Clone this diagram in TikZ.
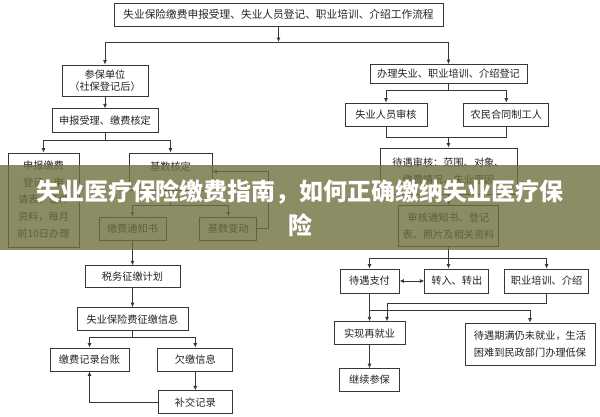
\documentclass[tikz,border=0pt]{standalone}
\usepackage{fontspec}
\newfontfamily\cjk{Noto Sans CJK SC}
\usetikzlibrary{arrows.meta,positioning}
\definecolor{linec}{RGB}{55,55,55}
\definecolor{textc}{RGB}{35,35,35}
\definecolor{bannerc}{RGB}{112,112,62}

\begin{document}
\begin{tikzpicture}[x=1pt,y=1pt,
  node distance=12pt and 30pt,
  box/.style={draw=linec,line width=0.8pt,fill=white,align=center,inner sep=2pt,text=textc,font=\cjk\fontsize{10.2}{17}\selectfont},
  wh/.style 2 args={minimum width=#1pt,minimum height=#2pt},
  ln/.style={draw=linec,line width=0.8pt},
  arr/.style={-{Latex[length=4.5pt,width=4pt]},draw=linec,line width=0.8pt},
  darr/.style={{Latex[length=4.5pt,width=4pt]}-{Latex[length=4.5pt,width=4pt]},draw=linec,line width=0.8pt},
  banner/.style={fill=bannerc,fill opacity=0.8,inner sep=0pt},
  title/.style={text=white,align=center,font=\cjk\bfseries\fontsize{24}{34}\selectfont}
]
\useasboundingbox (0,0) rectangle (600,-416);

% left column
\node[box,wh={329}{23},font=\cjk\fontsize{10.7}{14}\selectfont] (top) at (278.5,-14.5) {失业保险缴费申报受理、失业人员登记、职业培训、介绍工作流程};
\node[box,wh={86}{31}] (cbdw) at (105,-80.5) {参保单位\\[-5pt]（社保登记后）};
\node[box,wh={106}{24},below=12pt of cbdw] (sbsl) {申报受理、缴费核定};
\node[box,wh={71}{94}] (sbjf) at (43.5,-200) {申报缴费\\登记、申\\请表、证件\\资料，每月\\前10日办理};
\node[box,wh={83}{37},text height=14pt,text depth=17pt] (jshd) at (170.5,-171.5) {基数核定};
\node[box,wh={67}{23}] (jftz) at (132.5,-228.5) {缴费通知书};
\node[box,wh={57}{23},right=33pt of jftz] (jsbd) {基数变动};
\node[box,wh={95}{22},below=25pt of jftz] (swzj) {税务征缴计划};
\node[box,wh={111}{23},below=19pt of swzj] (zjxx) {失业保险费征缴信息};
\node[box,wh={79}{23}] (jfjl) at (89.5,-359.5) {缴费记录台账};
\node[box,wh={75}{23},right=28pt of jfjl] (qjxx) {欠缴信息};
\node[box,wh={74}{23},below=19pt of qjxx] (bjjl) {补交记录};

% right column
\node[box,wh={157}{19}] (bldj) at (448.5,-74) {办理失业、职业培训、介绍登记};
\node[box,wh={82}{23}] (syry) at (386,-114.5) {失业人员审核};
\node[box,wh={85}{23},right=36pt of syry] (nmht) {农民合同制工人};
\node[box,wh={137}{46}] (dysh) at (448.5,-171) {待遇审核：范围、对象、\\缴费情况、失业原因};
\node[box,wh={100}{41},below=11pt of dysh] (shtz) {审核通知书、登记\\表、照片及相关资料};
\node[box,wh={59}{24}] (dyzf) at (369.5,-281) {待遇支付};
\node[box,wh={64}{24},right=25pt of dyzf] (zrzc) {转入、转出};
\node[box,wh={84}{24},right=15pt of zrzc] (zypx) {职业培训、介绍};
\node[box,wh={71}{23},below=28pt of dyzf] (sxzy) {实现再就业};
\node[box,wh={60}{23},below=23pt of sxzy] (jxcb) {继续参保};
\node[box,wh={130}{42}] (dyqm) at (530,-344) {待遇期满仍未就业，生活\\困难到民政部门办理低保};

% connectors
\coordinate (s1) at (278.5,-42);
\draw[arr] (top) -- (s1);
\draw[arr] (s1) -| (cbdw);
\draw[arr] (s1) -| (bldj);
\draw[arr] (cbdw) -- (sbsl);
\coordinate (s2) at (105,-140);
\draw[ln] (sbsl) -- (s2);
\draw[arr] (s2) -| (sbjf);
\draw[arr] (s2) -| (jshd);
\coordinate (s3) at (170.5,-205);
\draw[ln] (jshd) -- (s3);
\draw[arr] (s3) -| (jftz);
\draw[arr] (s3) -| (jsbd);
\draw[arr] (jsbd.east) -- ++(11,0) |- (jshd.east);
\draw[arr] (jftz) -- (swzj);
\draw[arr] (swzj) -- (zjxx);
\coordinate (s4) at (132.5,-337);
\draw[ln] (zjxx) -- (s4);
\draw[arr] (s4) -| (jfjl);
\draw[arr] (s4) -| (qjxx);
\draw[arr] (qjxx) -- (bjjl);
\draw[arr] (bjjl) -| (jfjl);

\coordinate (s5) at (448.5,-90);
\draw[ln] (bldj) -- (s5);
\draw[arr] (s5) -| (syry);
\draw[arr] (s5) -| (nmht);
\coordinate (s6) at (448.5,-137);
\draw[ln] (syry) |- (s6);
\draw[ln] (nmht) |- (s6);
\draw[arr] (s6) -- (dysh);
\draw[arr] (dysh) -- (shtz);
\coordinate (s7) at (448.5,-258);
\draw[ln] (shtz) -- (s7);
\draw[arr] (s7) -| (dyzf);
\draw[arr] (s7) -- (s7 |- zrzc.north);
\draw[arr] (s7) -| (zypx);
\draw[darr] (dyzf) -- (zrzc);
\coordinate (s8) at (387,-303);
\draw[arr] (zypx) |- (s8) -- (s8 |- sxzy.north);
\draw[arr] (dyzf) -- (sxzy);
\coordinate (s9) at (369.5,-310);
\draw[arr] (s9) -| (dyqm);
\draw[arr] (sxzy) -- (jxcb);

% title band
\node[banner,wh={600}{85}] (band) at (300,-207.5) {};
\node[title] (head) at (300,-208) {失业医疗保险缴费指南，如何正确缴纳失业医疗保\\险};
\end{tikzpicture}
\end{document}
